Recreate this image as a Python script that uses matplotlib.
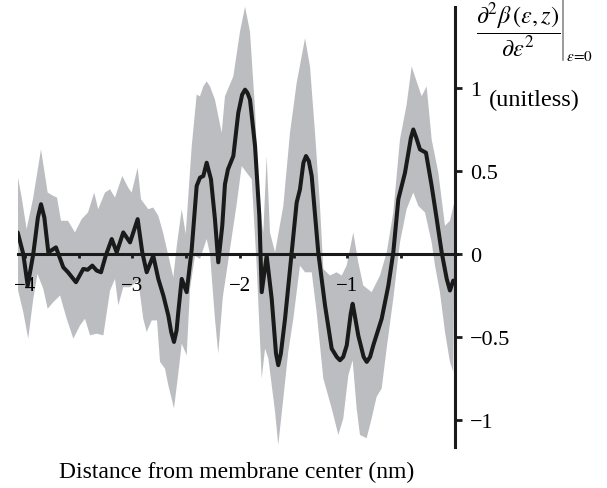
import numpy as np
import matplotlib
matplotlib.use("Agg")
import matplotlib.pyplot as plt
from matplotlib.lines import Line2D

plt.rcParams['font.family'] = ['Liberation Serif', 'DejaVu Serif']
plt.rcParams['mathtext.fontset'] = 'stix'

# ---- data ----
mean_x = [-4.068, -4.016, -3.975, -3.923, -3.880, -3.851, -3.820, -3.783, -3.712, -3.644,
          -3.600, -3.526, -3.458, -3.417, -3.374, -3.333, -3.293, -3.249, -3.193, -3.147,
          -3.086, -3.023, -2.952, -2.909, -2.868, -2.807, -2.760, -2.713, -2.667, -2.640,
          -2.614, -2.590, -2.574, -2.542, -2.496, -2.449, -2.403, -2.372, -2.341, -2.310,
          -2.270, -2.233, -2.202, -2.165, -2.140, -2.112, -2.062, -2.016, -1.980, -1.953,
          -1.930, -1.907, -1.860, -1.820, -1.798, -1.752, -1.705, -1.665, -1.644, -1.620,
          -1.581, -1.519, -1.473, -1.442, -1.410, -1.386, -1.360, -1.333, -1.272, -1.209,
          -1.147, -1.100, -1.070, -1.040, -1.007, -0.970, -0.952, -0.935, -0.900, -0.850,
          -0.821, -0.790, -0.760, -0.682, -0.620, -0.574, -0.527, -0.465, -0.410, -0.388,
          -0.360, -0.326, -0.270, -0.217, -0.170, -0.124, -0.077, -0.047, -0.016]
mean_y = [0.13, 0.00, -0.19, 0.00, 0.22, 0.30, 0.22, 0.01, 0.04, -0.08,
          -0.11, -0.17, -0.09, -0.095, -0.07, -0.10, -0.11, -0.01, 0.09, 0.01,
          0.13, 0.07, 0.21, 0.01, -0.11, -0.01, -0.15, -0.25, -0.37, -0.47,
          -0.53, -0.46, -0.35, -0.15, -0.23, 0.03, 0.41, 0.46, 0.47, 0.55,
          0.45, 0.21, -0.05, 0.17, 0.42, 0.51, 0.59, 0.85, 0.96, 0.99,
          0.97, 0.93, 0.65, 0.23, -0.23, -0.01, -0.27, -0.60, -0.67, -0.60,
          -0.39, 0.01, 0.31, 0.39, 0.55, 0.59, 0.56, 0.47, 0.01, -0.31,
          -0.57, -0.62, -0.64, -0.62, -0.55, -0.36, -0.30, -0.36, -0.49, -0.62,
          -0.65, -0.62, -0.55, -0.39, -0.19, 0.01, 0.33, 0.49, 0.70, 0.75,
          0.70, 0.63, 0.61, 0.41, 0.21, 0.01, -0.15, -0.22, -0.16]

upper_x = [-4.068, -4.028, -3.985, -3.926, -3.851, -3.789, -3.737, -3.702, -3.665, -3.600,
           -3.535, -3.473, -3.414, -3.356, -3.319, -3.256, -3.209, -3.163, -3.095, -3.040,
           -3.008, -2.952, -2.921, -2.853, -2.807, -2.760, -2.716, -2.670, -2.620, -2.588,
           -2.542, -2.505, -2.449, -2.403, -2.372, -2.341, -2.310, -2.279, -2.233, -2.170,
           -2.140, -2.062, -2.000, -1.953, -1.907, -1.860, -1.820, -1.783, -1.752, -1.721,
           -1.674, -1.597, -1.535, -1.473, -1.395, -1.349, -1.302, -1.256, -1.225, -1.163,
           -1.101, -1.054, -1.008, -0.946, -0.900, -0.853, -0.775, -0.698, -0.635, -0.574,
           -0.512, -0.450, -0.403, -0.357, -0.310, -0.264, -0.217, -0.155, -0.093, -0.047,
           0.000]
upper_y = [0.47, 0.33, 0.15, 0.33, 0.63, 0.37, 0.35, 0.34, 0.20, 0.20,
           0.13, 0.21, 0.25, 0.37, 0.27, 0.37, 0.39, 0.34, 0.47, 0.40,
           0.37, 0.52, 0.33, 0.27, 0.28, 0.23, 0.13, 0.00, -0.14, 0.05,
           0.27, 0.12, 0.65, 0.96, 0.95, 1.01, 1.04, 1.01, 0.93, 0.73,
           0.95, 1.07, 1.34, 1.49, 1.34, 0.87, 0.29, 0.13, 0.59, 0.13,
           0.01, 0.29, 0.73, 1.03, 1.30, 1.13, 0.73, 0.29, -0.09, -0.13,
           -0.11, -0.13, -0.07, 0.13, -0.05, -0.19, -0.23, -0.13, 0.01, 0.25,
           0.69, 0.90, 1.13, 1.04, 0.95, 1.01, 0.69, 0.49, 0.17, 0.20,
           0.33]

lower_x = [-4.068, -4.016, -3.970, -3.923, -3.884, -3.830, -3.789, -3.737, -3.674, -3.612,
           -3.550, -3.488, -3.442, -3.395, -3.333, -3.271, -3.209, -3.163, -3.132, -3.086,
           -3.023, -2.946, -2.900, -2.868, -2.821, -2.772, -2.744, -2.698, -2.667, -2.614,
           -2.574, -2.542, -2.496, -2.465, -2.419, -2.372, -2.310, -2.279, -2.233, -2.202,
           -2.160, -2.093, -2.031, -1.984, -1.938, -1.891, -1.845, -1.798, -1.767, -1.736,
           -1.674, -1.644, -1.597, -1.551, -1.504, -1.442, -1.395, -1.333, -1.287, -1.225,
           -1.147, -1.085, -1.039, -0.992, -0.952, -0.915, -0.884, -0.822, -0.775, -0.729,
           -0.682, -0.636, -0.574, -0.512, -0.450, -0.388, -0.341, -0.279, -0.217, -0.186,
           -0.140, -0.093, -0.047, -0.016]
lower_y = [-0.21, -0.35, -0.51, -0.27, -0.12, -0.21, -0.33, -0.29, -0.25, -0.39,
           -0.51, -0.43, -0.39, -0.49, -0.48, -0.49, -0.22, -0.15, -0.31, -0.20,
           -0.20, -0.16, -0.39, -0.47, -0.40, -0.40, -0.65, -0.69, -0.79, -0.93,
           -0.72, -0.54, -0.61, -0.21, -0.01, -0.03, 0.09, 0.00, -0.39, -0.60,
           -0.26, 0.03, 0.30, 0.53, 0.49, 0.45, -0.07, -0.75, -0.57, -0.63,
           -0.95, -1.15, -0.87, -0.59, -0.39, -0.07, -0.11, -0.11, -0.35, -0.75,
           -0.93, -1.09, -0.99, -0.73, -0.64, -0.93, -1.09, -1.11, -0.99, -0.86,
           -0.81, -0.57, -0.27, 0.07, 0.27, 0.37, 0.29, 0.25, 0.07, -0.07,
           -0.23, -0.47, -0.65, -0.71]

xticks_major = [-4, -3, -2, -1]
xtick_labels = ['\u22124', '\u22123', '\u22122', '\u22121']
xticks_minor = [-3.5, -2.5, -1.5, -0.5]
yticks = [-1, -0.5, 0, 0.5, 1]
ytick_labels = ['\u22121', '\u22120.5', '0', '0.5', '1']

W, H = 607, 489
fig = plt.figure(figsize=(W / 100, H / 100), dpi=100)
ax = fig.add_axes([18 / W, (H - 448) / H, 439 / W, 440 / H])
ax.set_xlim(-4.0651, 0.0186)
ax.set_ylim(-1.1627, 1.488)

band_x = np.concatenate([upper_x, lower_x[::-1]])
band_y = np.concatenate([upper_y, lower_y[::-1]])
ax.fill(band_x, band_y, color='#bcbdc1', lw=0, zorder=1)
ax.plot(mean_x, mean_y, color='#1a1a1a', lw=2.9, solid_joinstyle='round',
        solid_capstyle='round', zorder=3)

for s in ['top', 'left']:
    ax.spines[s].set_visible(False)
ax.spines['bottom'].set_position(('data', 0))
ax.spines['right'].set_position(('data', 0))
for s in ['bottom', 'right']:
    ax.spines[s].set_linewidth(2.2)
    ax.spines[s].set_color('#1a1a1a')
ax.spines['bottom'].set_zorder(2)
ax.patch.set_visible(False)

ax.yaxis.tick_right()
ax.set_xticks(xticks_major, labels=xtick_labels)
ax.set_xticks(xticks_minor, minor=True)
ax.set_yticks(yticks, labels=ytick_labels)
ax.tick_params(axis='x', which='both', direction='out', length=3, width=2,
               color='#1a1a1a', labelsize=15, pad=13)
ax.tick_params(axis='y', direction='out', length=5, width=2, color='#1a1a1a',
               labelsize=16, pad=6)

fig.text(237 / W, 1 - 478 / H, 'Distance from membrane center (nm)', fontsize=17,
         ha='center', va='baseline')
fig.text(489 / W, 1 - 100 / H, '(unitless)', fontsize=17.5, ha='left', va='center')
fig.text(518.5 / W, 1 - 31 / H,
         r'$\dfrac{\partial^2\beta\,(\varepsilon,z)}{\partial\varepsilon^2}$',
         fontsize=17.5, ha='center', va='center')
fig.add_artist(Line2D([563 / W, 563 / W], [1 - 1 / H, 1 - 61 / H],
                      transform=fig.transFigure, color='#8a8a8a', lw=1.2))
fig.text(565.5 / W, 1 - 57 / H, r'$\varepsilon\!=\!0$', fontsize=11,
         ha='left', va='center')

fig.savefig('out.png', dpi=100)
